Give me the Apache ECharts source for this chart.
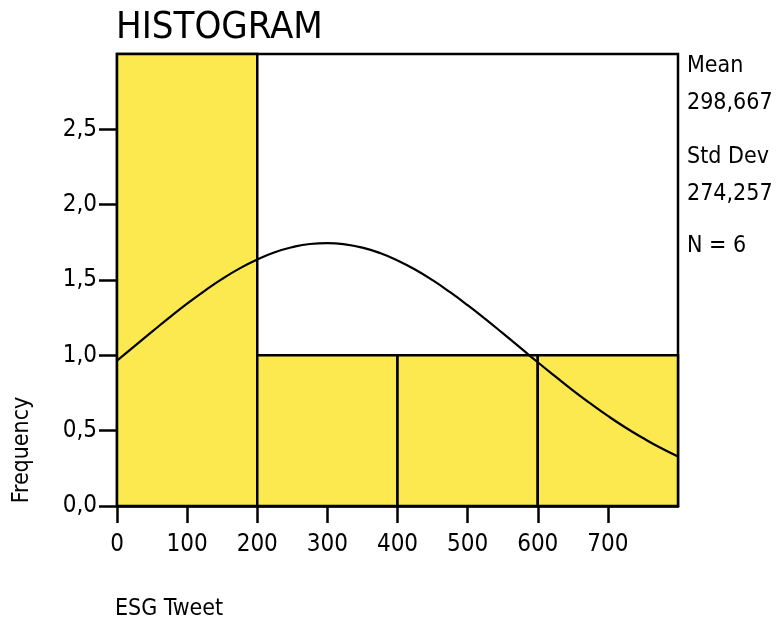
<!DOCTYPE html>
<html><head><meta charset="utf-8">
<script src="https://cdn.jsdelivr.net/npm/echarts@6/dist/echarts.min.js"></script>
<style>html,body{margin:0;padding:0;background:#fff}#c{width:781px;height:621px}</style>
</head><body><div id="c"></div>
<script>
var binStarts = [0, 200, 400, 600];
var binEnds = [200, 400, 600, 800];
var frequencies = [3, 1, 1, 1];
var curveX = [0, 25, 50, 75, 100, 125, 150, 175, 200, 225, 250, 275, 300, 325, 350, 375, 400,
              425, 450, 475, 500, 525, 550, 575, 600, 625, 650, 675, 700, 725, 750, 775, 800];
var curveY = [0.965, 1.061, 1.157, 1.252, 1.343, 1.428, 1.507, 1.577, 1.636, 1.684, 1.718, 1.739, 1.745, 1.737, 1.715, 1.679, 1.630,
              1.570, 1.499, 1.419, 1.333, 1.242, 1.147, 1.051, 0.954, 0.860, 0.768, 0.681, 0.598, 0.521, 0.451, 0.386, 0.328];
var xTicks = [0, 100, 200, 300, 400, 500, 600, 700];
var yTicks = [0, 0.5, 1.0, 1.5, 2.0, 2.5];
var statLabels = ['Mean', '298,667', 'Std Dev', '274,257', 'N = 6'];

var FONT = 'DejaVu Sans Condensed';
var chart = echarts.init(document.getElementById('c'), null, {renderer: 'canvas'});
var histData = binStarts.map(function (s, i) { return [s, binEnds[i], frequencies[i]]; });
var curveData = curveX.map(function (x, i) { return [x, curveY[i]]; });
var statY = [66, 103, 157, 194, 246];

function txt(t, x, y, size, extra, align) {
  var o = {type: 'text', x: x, y: y, style: {text: t, fill: '#000', fontFamily: FONT, fontSize: size, align: align || 'left', verticalAlign: 'middle'}};
  if (extra) { for (var k in extra) o[k] = extra[k]; }
  return o;
}

chart.setOption({
  animation: false,
  grid: {left: 117, top: 54, right: 103, bottom: 115, show: true, borderColor: '#000', borderWidth: 2.5, backgroundColor: '#fff'},
  xAxis: {
    type: 'value', min: 0, max: 800, interval: 100,
    axisLine: {show: true, lineStyle: {color: '#000', width: 2.5}},
    axisTick: {show: true, length: 17, lineStyle: {color: '#000', width: 2.5}, customValues: xTicks},
    axisLabel: {color: '#000', fontFamily: FONT, fontSize: 24, margin: 27, customValues: xTicks},
    splitLine: {show: false}
  },
  yAxis: {
    type: 'value', min: 0, max: 3, interval: 0.5,
    axisLine: {show: true, lineStyle: {color: '#000', width: 2.5}},
    axisTick: {show: true, length: 18, lineStyle: {color: '#000', width: 2.5}, customValues: yTicks},
    axisLabel: {color: '#000', fontFamily: FONT, fontSize: 24, margin: 20, customValues: yTicks,
      formatter: function (v) { return v.toFixed(1).replace('.', ','); }},
    splitLine: {show: false}
  },
  graphic: [
    txt('HISTOGRAM', 116, 28, 38),
    txt('Frequency', 22, 450, 23, {rotation: Math.PI / 2}, 'center'),
    txt('ESG Tweet', 115, 609, 23)
  ].concat(statLabels.map(function (t, i) { return txt(t, 687, statY[i], 23); })),
  series: [
    {
      type: 'custom',
      data: histData,
      z: 2,
      renderItem: function (params, api) {
        var p0 = api.coord([api.value(0), api.value(2)]);
        var p1 = api.coord([api.value(1), 0]);
        return {type: 'rect', shape: {x: p0[0], y: p0[1], width: p1[0] - p0[0], height: p1[1] - p0[1]},
          style: {fill: '#fce84f', stroke: '#000', lineWidth: 2.5}};
      }
    },
    {
      type: 'line', data: curveData, smooth: true, showSymbol: false, z: 3,
      lineStyle: {color: '#000', width: 2.2}
    }
  ]
});
</script></body></html>
